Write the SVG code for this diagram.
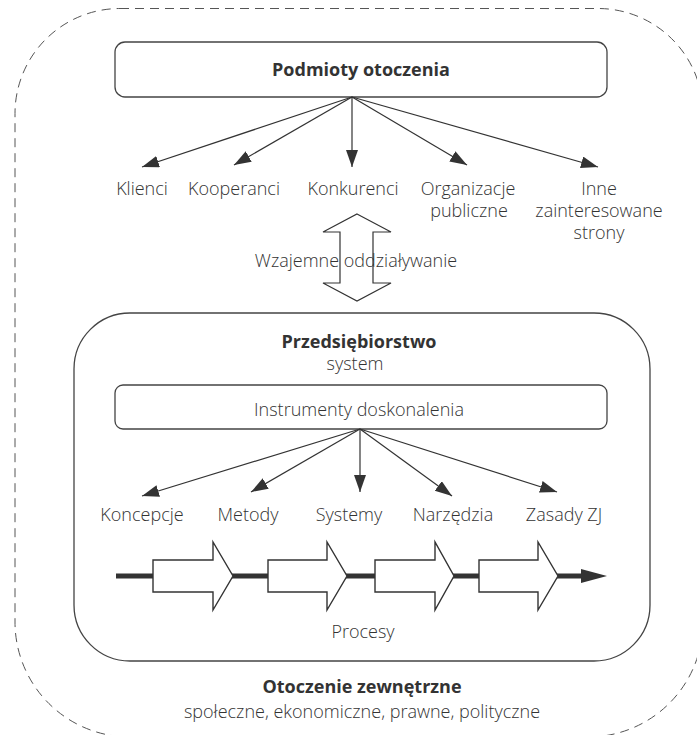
<svg xmlns="http://www.w3.org/2000/svg" width="697" height="735" viewBox="0 0 697 735">
<style>
.t{font-family:"Open Sans","Liberation Sans",sans-serif;font-size:18px;fill:#333;font-weight:300;text-anchor:middle}
.b{font-weight:700}
.box{fill:#fff;stroke:#444;stroke-width:1.3}
.ln{stroke:#333;stroke-width:1.2;fill:none}
.pa{fill:#fff;stroke:#333;stroke-width:1.4;stroke-linejoin:miter}
</style>
<defs>
<marker id="ah" markerUnits="userSpaceOnUse" markerWidth="18" markerHeight="13" refX="17" refY="6" orient="auto">
<path d="M0,0 L17,6 L0,12 z" fill="#333"/>
</marker>
</defs>
<rect width="697" height="735" fill="#fff"/>
<g id="outer">
<path d="M120,8.5 H598 A105,105 0 0 1 703,113.5 V622 A115,115 0 0 1 588,737 H130 A115,115 0 0 1 15,622 V113.5 A105,105 0 0 1 120,8.5 Z" fill="none" stroke="#555" stroke-width="1" stroke-dasharray="9 6"/>
<text class="t b" x="362" y="693">Otoczenie zewnętrzne</text>
<text class="t" x="362" y="718">społeczne, ekonomiczne, prawne, polityczne</text>
</g>
<g id="podmioty">
<rect class="box" x="115" y="42" width="492" height="55" rx="10"/>
<text class="t b" x="361" y="76">Podmioty otoczenia</text>
</g>
<g id="klienci"><text class="t" x="142" y="195">Klienci</text></g>
<g id="kooperanci"><text class="t" x="234" y="195">Kooperanci</text></g>
<g id="konkurenci"><text class="t" x="353" y="195">Konkurenci</text></g>
<g id="organizacje"><text class="t" x="468" y="195">Organizacje</text><text class="t" x="469" y="217">publiczne</text></g>
<g id="inne"><text class="t" x="599" y="195">Inne</text><text class="t" x="599" y="217">zainteresowane</text><text class="t" x="599" y="239">strony</text></g>
<g id="wzajemne">
<path d="M357,214 L391,232 L373,232 L373,283 L391,283 L357,301 L323,283 L340,283 L340,232 L323,232 Z" fill="#fff" stroke="#333" stroke-width="1.2"/>
<text class="t" x="356" y="267">Wzajemne oddziaływanie</text>
</g>
<g id="przedsiebiorstwo">
<rect x="74" y="313" width="576" height="348" rx="56" fill="none" stroke="#444" stroke-width="1.3"/>
<text class="t b" x="359" y="348">Przedsiębiorstwo</text>
<text class="t" x="355" y="370">system</text>
</g>
<g id="instrumenty">
<rect class="box" x="115" y="385" width="492" height="44" rx="8"/>
<text class="t" x="359" y="416">Instrumenty doskonalenia</text>
</g>
<g id="koncepcje"><text class="t" x="142" y="521">Koncepcje</text></g>
<g id="metody"><text class="t" x="248" y="521">Metody</text></g>
<g id="systemy"><text class="t" x="349" y="521">Systemy</text></g>
<g id="narzedzia"><text class="t" x="453" y="521">Narzędzia</text></g>
<g id="zasady"><text class="t" x="564" y="521">Zasady ZJ</text></g>
<g id="procesy">
<line x1="116" y1="576" x2="584" y2="576" stroke="#333" stroke-width="5"/>
<polygon points="581,569 607,576 581,583" fill="#333"/>
<polygon class="pa" points="153,560 213,560 213,542 233,576 213,610 213,592 153,592"/>
<polygon class="pa" points="268,560 327,560 327,542 347,576 327,610 327,592 268,592"/>
<polygon class="pa" points="375,560 435,560 435,542 454,576 435,610 435,592 375,592"/>
<polygon class="pa" points="479,560 538,560 538,542 558,576 538,610 538,592 479,592"/>
<text class="t" x="363" y="638">Procesy</text>
</g>
<g id="connectors">
<line class="ln" x1="352" y1="97" x2="142" y2="167" marker-end="url(#ah)"/>
<line class="ln" x1="352" y1="97" x2="234" y2="165" marker-end="url(#ah)"/>
<line class="ln" x1="352" y1="97" x2="352" y2="167" marker-end="url(#ah)"/>
<line class="ln" x1="352" y1="97" x2="467" y2="165" marker-end="url(#ah)"/>
<line class="ln" x1="352" y1="97" x2="598" y2="167" marker-end="url(#ah)"/>
<line class="ln" x1="360" y1="429" x2="142" y2="496" marker-end="url(#ah)"/>
<line class="ln" x1="360" y1="429" x2="251" y2="492" marker-end="url(#ah)"/>
<line class="ln" x1="360" y1="429" x2="360" y2="492" marker-end="url(#ah)"/>
<line class="ln" x1="360" y1="429" x2="452" y2="496" marker-end="url(#ah)"/>
<line class="ln" x1="360" y1="429" x2="557" y2="492" marker-end="url(#ah)"/>
</g>
</svg>
